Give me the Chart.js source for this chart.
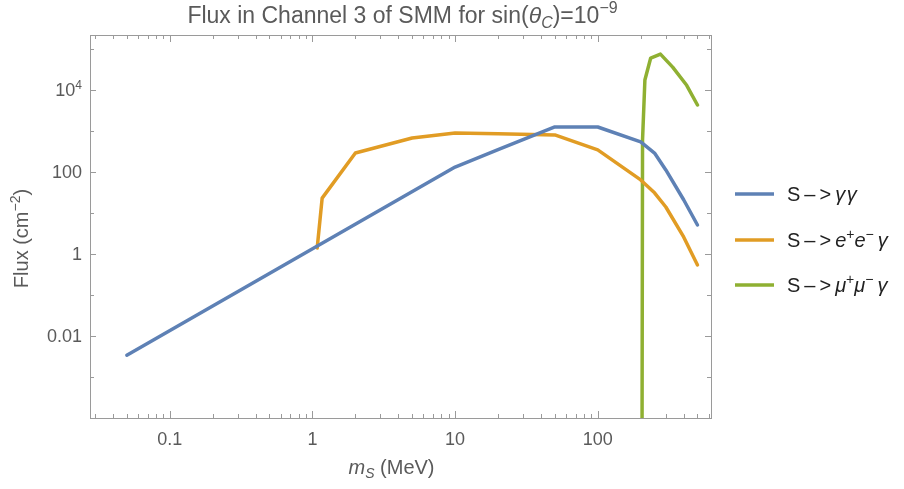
<!DOCTYPE html>
<html>
<head>
<meta charset="utf-8">
<script src="https://cdn.jsdelivr.net/npm/chart.js@4.4.0/dist/chart.umd.min.js"></script>
<style>
  html, body { margin: 0; padding: 0; background: #fff; }
</style>
</head>
<body>
<canvas id="fluxChart" width="904" height="489"></canvas>
<script>
// S -> gamma gamma
const massGG = [0.05, 10, 20, 50, 100, 200, 250, 300, 400, 500];
const fluxGG = [0.0034, 132, 350, 1250, 1250, 540, 290, 112, 21, 5.1];
// S -> e+ e- gamma
const massEE = [1.08, 1.17, 2, 5, 10, 20, 50, 100, 200, 250, 300, 400, 500];
const fluxEE = [1.4, 23, 290, 675, 890, 860, 800, 345, 64, 31, 14, 2.6, 0.54];
// S -> mu+ mu- gamma
const massMM = [204, 206, 214, 235, 275, 335, 420, 500];
const fluxMM = [1e-6, 600, 17500, 60000, 75000, 36000, 13000, 4300];

const xTickValues = [0.1, 1, 10, 100];
const xTickLabels = ['0.1', '1', '10', '100'];
const yTickValues = [1e4, 100, 1, 0.01];
const yTickLabels = ['10^4', '100', '1', '0.01'];

const FONT = '"Liberation Sans", Arial, sans-serif';
const AXIS_GRAY = '#9a9a9a';
const LABEL_GRAY = '#5a5a5a';

const seriesColors = ['#5e81b5', '#e19c24', '#8fb032'];

const TH = '\u2009';
const arrow = [{ t: 'S' + TH + '\u2013' + TH + '>' + TH }];
const legendItems = [
    arrow.concat([{ t: '\u03b3\u200a\u03b3', it: true }]),
    arrow.concat([{ t: 'e', it: true }, { t: '+', sup: true }, { t: 'e', it: true }, { t: '\u2212', sup: true }, { t: TH + '\u03b3', it: true }]),
    arrow.concat([{ t: '\u03bc', it: true }, { t: '+', sup: true }, { t: '\u03bc', it: true }, { t: '\u2212', sup: true }, { t: TH + '\u03b3', it: true }])
];

function toPoints(xs, ys) {
    return xs.map((x, i) => ({ x: x, y: ys[i] }));
}

// draws text made of plain / italic / super / subscript pieces
function drawRich(ctx, parts, x, y, size, align) {
    const fontFor = p => (p.it ? 'italic ' : '') + ((p.sup || p.sub) ? Math.round(size * 0.68) : size) + 'px ' + FONT;
    let total = 0;
    parts.forEach(p => { ctx.font = fontFor(p); total += ctx.measureText(p.t).width; });
    let cx = align === 'center' ? x - total / 2 : (align === 'right' ? x - total : x);
    ctx.textAlign = 'left';
    ctx.textBaseline = 'alphabetic';
    parts.forEach(p => {
        ctx.font = fontFor(p);
        const dy = p.sup ? -size * 0.42 : (p.sub ? size * 0.22 : 0);
        ctx.fillText(p.t, cx, y + dy);
        cx += ctx.measureText(p.t).width;
    });
}

function splitPower(label) {
    const bits = label.split('^');
    return bits.length > 1 ? [{ t: bits[0] }, { t: bits[1], sup: true }] : [{ t: label }];
}

// frame with inward ticks on all four sides
const framePlugin = {
    id: 'frame',
    beforeDatasetsDraw(chart) {
        const { ctx, chartArea: a, scales } = chart;
        const xs = scales.x, ys = scales.y;
        ctx.save();
        ctx.strokeStyle = AXIS_GRAY;
        ctx.lineWidth = 1;
        ctx.strokeRect(a.left + 0.5, a.top + 0.5, a.right - a.left, a.bottom - a.top);

        ctx.beginPath();
        for (let e = -3; e <= 3; e++) {
            for (let k = 1; k <= 9; k++) {
                const v = k * Math.pow(10, e);
                if (v < xs.min || v > xs.max) continue;
                const px = Math.round(xs.getPixelForValue(v)) + 0.5;
                const len = k === 1 ? 7 : 4;
                ctx.moveTo(px, a.bottom); ctx.lineTo(px, a.bottom - len);
                ctx.moveTo(px, a.top); ctx.lineTo(px, a.top + len);
            }
        }
        for (let e = -4; e <= 6; e++) {
            const v = Math.pow(10, e);
            if (v < ys.min || v > ys.max) continue;
            const py = Math.round(ys.getPixelForValue(v)) + 0.5;
            const len = e % 2 === 0 ? 6 : 4;
            ctx.moveTo(a.left, py); ctx.lineTo(a.left + len, py);
            ctx.moveTo(a.right, py); ctx.lineTo(a.right - len, py);
        }
        ctx.stroke();
        ctx.restore();
    },
    afterDraw(chart) {
        const { ctx, chartArea: a, scales } = chart;
        const xs = scales.x, ys = scales.y;
        ctx.save();
        ctx.fillStyle = LABEL_GRAY;

        xTickValues.forEach((v, i) => {
            drawRich(ctx, [{ t: xTickLabels[i] }], xs.getPixelForValue(v), a.bottom + 27, 18, 'center');
        });
        yTickValues.forEach((v, i) => {
            drawRich(ctx, splitPower(yTickLabels[i]), a.left - 8, ys.getPixelForValue(v) + 6.5, 18, 'right');
        });

        const midX = (a.left + a.right) / 2;
        drawRich(ctx, [
            { t: 'Flux in Channel 3 of SMM for sin(' }, { t: '\u03b8', it: true }, { t: 'C', it: true, sub: true },
            { t: ')=10' }, { t: '\u22129', sup: true }
        ], midX + 2, 23, 23, 'center');

        drawRich(ctx, [{ t: 'm', it: true }, { t: 'S', it: true, sub: true }, { t: ' (MeV)' }], midX - 9, a.bottom + 56, 20, 'center');

        ctx.save();
        ctx.translate(28, (a.top + a.bottom) / 2 + 12);
        ctx.rotate(-Math.PI / 2);
        drawRich(ctx, [{ t: 'Flux (cm' }, { t: '\u22122', sup: true }, { t: ')' }], 0, 0, 20, 'center');
        ctx.restore();

        // legend
        const lx = 735, ly = [194, 240, 285];
        legendItems.forEach((parts, i) => {
            ctx.strokeStyle = seriesColors[i];
            ctx.lineWidth = 3.5;
            ctx.beginPath();
            ctx.moveTo(lx, ly[i]); ctx.lineTo(lx + 39, ly[i]);
            ctx.stroke();
            ctx.fillStyle = '#222';
            drawRich(ctx, parts, lx + 52, ly[i] + 7, 20, 'left');
        });
        ctx.restore();
    }
};

const ctx = document.getElementById('fluxChart').getContext('2d');

new Chart(ctx, {
    type: 'line',
    data: {
        datasets: [
            { label: 'S->gg', data: toPoints(massGG, fluxGG), borderColor: seriesColors[0] },
            { label: 'S->eeg', data: toPoints(massEE, fluxEE), borderColor: seriesColors[1] },
            { label: 'S->mmg', data: toPoints(massMM, fluxMM), borderColor: seriesColors[2] }
        ]
    },
    options: {
        responsive: false,
        animation: false,
        layout: { padding: { left: 90, right: 193, top: 35, bottom: 71 } },
        elements: {
            line: { borderWidth: 3.5, tension: 0, borderJoinStyle: 'round', borderCapStyle: 'round' },
            point: { radius: 0, hoverRadius: 0 }
        },
        scales: {
            x: { type: 'logarithmic', min: 0.0276, max: 622, display: false },
            y: { type: 'logarithmic', min: 1e-4, max: 2.19e5, display: false }
        },
        plugins: {
            legend: { display: false },
            tooltip: { enabled: false }
        }
    },
    plugins: [framePlugin]
});
</script>
</body>
</html>
